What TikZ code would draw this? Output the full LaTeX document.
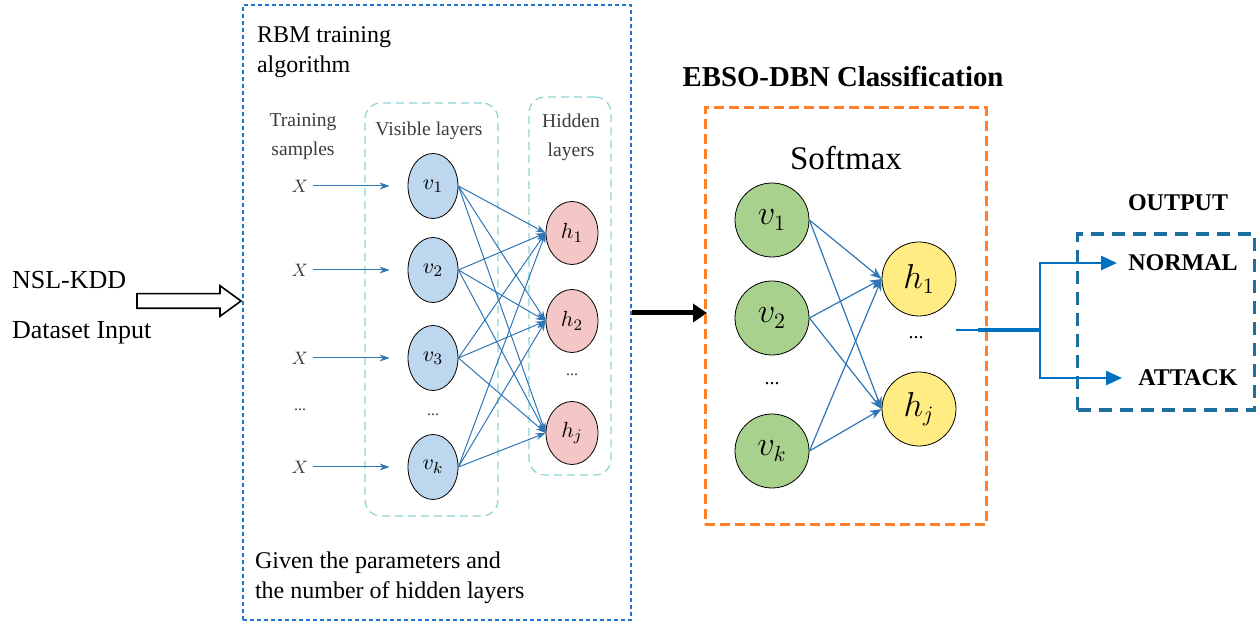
\documentclass[tikz,border=0pt]{standalone}
\usepackage{fontspec}
\setmainfont{Liberation Serif}
\usetikzlibrary{arrows.meta,shapes.geometric,shapes.arrows}

\definecolor{rbmblue}{RGB}{30,118,210}
\definecolor{edgeblue}{RGB}{46,117,182}
\definecolor{layercyan}{RGB}{140,212,210}
\definecolor{vblue}{RGB}{189,215,238}
\definecolor{hpink}{RGB}{244,199,198}
\definecolor{vgreen}{RGB}{169,209,142}
\definecolor{hyellow}{RGB}{255,236,130}
\definecolor{boxorange}{RGB}{255,127,39}
\definecolor{outblue}{RGB}{31,110,160}
\definecolor{linkblue}{RGB}{0,112,192}
\definecolor{labelgray}{RGB}{60,60,60}

\begin{document}
\begin{tikzpicture}[x=0.5pt,y=-0.5pt,
        vnode/.style={ellipse,draw,fill=vblue,minimum width=25pt,minimum height=32.5pt,inner sep=0pt,font=\fontsize{11}{13}\selectfont},
        hnode/.style={ellipse,draw,fill=hpink,minimum width=26pt,minimum height=31.5pt,inner sep=0pt,font=\fontsize{11}{13}\selectfont},
        gnode/.style={circle,draw,fill=vgreen,minimum size=37pt,inner sep=0pt,font=\fontsize{16}{18}\selectfont},
        ynode/.style={circle,draw,fill=hyellow,minimum size=37pt,inner sep=0pt,font=\fontsize{16}{18}\selectfont},
        link/.style={edgeblue,line width=0.5pt,-{Stealth[length=5pt,width=3.5pt]}},
        slink/.style={edgeblue,line width=0.6pt,-{Stealth[length=6pt,width=4.5pt]}},
        layerbox/.style={draw=layercyan,dash pattern=on 4pt off 2.5pt,rounded corners=8pt,line width=0.6pt},
        lbl/.style={text=labelgray,font=\fontsize{9.8}{14.5}\selectfont,align=center},
        txt/.style={font=\fontsize{12}{15}\selectfont,align=left},
        bold/.style={font=\fontsize{12}{14}\selectfont\bfseries}]
    \useasboundingbox (0,0) rectangle (1258,624);

    % input
    \node[anchor=west,font=\fontsize{13}{15}\selectfont] (nsl) at (5,280) {NSL-KDD};
    \node[anchor=west,font=\fontsize{13}{15}\selectfont] (dataset) at (5,333) {Dataset Input};
    \node[single arrow,draw,line width=0.8pt,minimum height=52pt,inner xsep=0pt,inner ysep=3.25pt,
          single arrow head extend=4pt,single arrow tip angle=72] (inarrow) at (184,301) {};

    % RBM training block
    \node[draw=rbmblue,line width=1pt,dash pattern=on 2pt off 1.5pt,minimum width=194pt,minimum height=307.5pt] (rbm) at (437,312.5) {};
    \node[txt,anchor=north west] (rbmtitle) at (250,20) {RBM training\\algorithm};
    \node[txt,anchor=west] (given) at (248,578) {Given the parameters and\\the number of hidden layers};

    \node[layerbox,minimum width=66.5pt,minimum height=206.5pt] (visbox) at (431.5,309.5) {};
    \node[layerbox,minimum width=41pt,minimum height=189pt] (hidbox) at (570,286) {};

    \node[lbl] (samples) at (303,137) {Training\\samples};
    \node[lbl] (vislbl) at (429,131) {Visible layers};
    \node[lbl] (hidlbl) at (571,137) {Hidden\\layers};

    \node[vnode] (v1) at (433,186) {$v_1$};
    \node[vnode] (v2) at (433,270) {$v_2$};
    \node[vnode] (v3) at (433,358) {$v_3$};
    \node[vnode] (v4) at (433,467) {$v_k$};
    \node[hnode] (h1) at (572,233) {$h_1$};
    \node[hnode] (h2) at (572,321) {$h_2$};
    \node[hnode] (h3) at (572,433) {$h_j$};

    \node[text=labelgray,font=\fontsize{8}{10}\selectfont] (vdots) at (433,415) {...};
    \node[text=labelgray,font=\fontsize{8}{10}\selectfont] (hdots) at (572,375) {...};
    \node[text=labelgray,font=\fontsize{8}{10}\selectfont] (xdots) at (300,410) {...};

    \foreach \i/\y in {1/186,2/270,3/358,4/467} {
        \node[text=labelgray,font=\fontsize{9.5}{11}\selectfont,inner sep=2pt] (x\i) at (300,\y) {$X$};
        \draw[link,shorten >=9pt] (x\i) -- (v\i);
    }
    \foreach \i in {1,...,4}
        \foreach \j in {1,2,3}
            \draw[link] (v\i.east) -- (h\j.west);

    \draw[line width=2.5pt,-{Triangle[length=7pt,width=9pt]}] (rbm.east |- 0,313) -- (707,313);

    % classification block
    \node[bold,font=\fontsize{14.4}{16}\selectfont\bfseries] (cls) at (843,77) {EBSO-DBN Classification};
    \node[draw=boxorange,line width=1.5pt,dash pattern=on 5pt off 2.5pt,minimum width=140.5pt,minimum height=208.5pt] (softbox) at (845.5,316.5) {};
    \node[font=\fontsize{16.5}{18}\selectfont] (softmax) at (846,158) {Softmax};

    \node[gnode] (g1) at (772,220) {$v_1$};
    \node[gnode] (g2) at (772,318) {$v_2$};
    \node[gnode] (g3) at (772,451) {$v_k$};
    \node[ynode] (y1) at (919,279) {$h_1$};
    \node[ynode] (y2) at (919,409) {$h_j$};
    \node[font=\fontsize{10}{12}\selectfont] (gdots) at (772,384) {...};
    \node[font=\fontsize{10}{12}\selectfont] (ydots) at (916,338) {...};

    \foreach \i in {1,2,3}
        \foreach \j in {1,2}
            \draw[slink] (g\i.east) -- (y\j.west);

    % output
    \node[bold] (outlbl) at (1178,203) {OUTPUT};
    \node[draw=outblue,line width=1.6pt,dash pattern=on 6.5pt off 4pt,minimum width=88.5pt,minimum height=88pt] (outbox) at (1166,322) {};
    \node[bold,anchor=west,inner sep=1pt] (normal) at (1126,263) {NORMAL};
    \node[bold,anchor=west,inner sep=1pt] (attack) at (1136,378) {ATTACK};

    \coordinate (outstart) at (956,330);
    \coordinate (split) at (1040,330);
    \draw[linkblue,line width=1.3pt] (outstart) -- (split);
    \draw[linkblue,line width=2.4pt] (978,330) -- (split);
    \draw[linkblue,line width=1.3pt,-{Triangle[length=8pt,width=7pt]},shorten >=4.5pt] (split) |- (normal.west);
    \draw[linkblue,line width=1.3pt,-{Triangle[length=8pt,width=7pt]},shorten >=7pt] (split) |- (attack.west);
\end{tikzpicture}
\end{document}
